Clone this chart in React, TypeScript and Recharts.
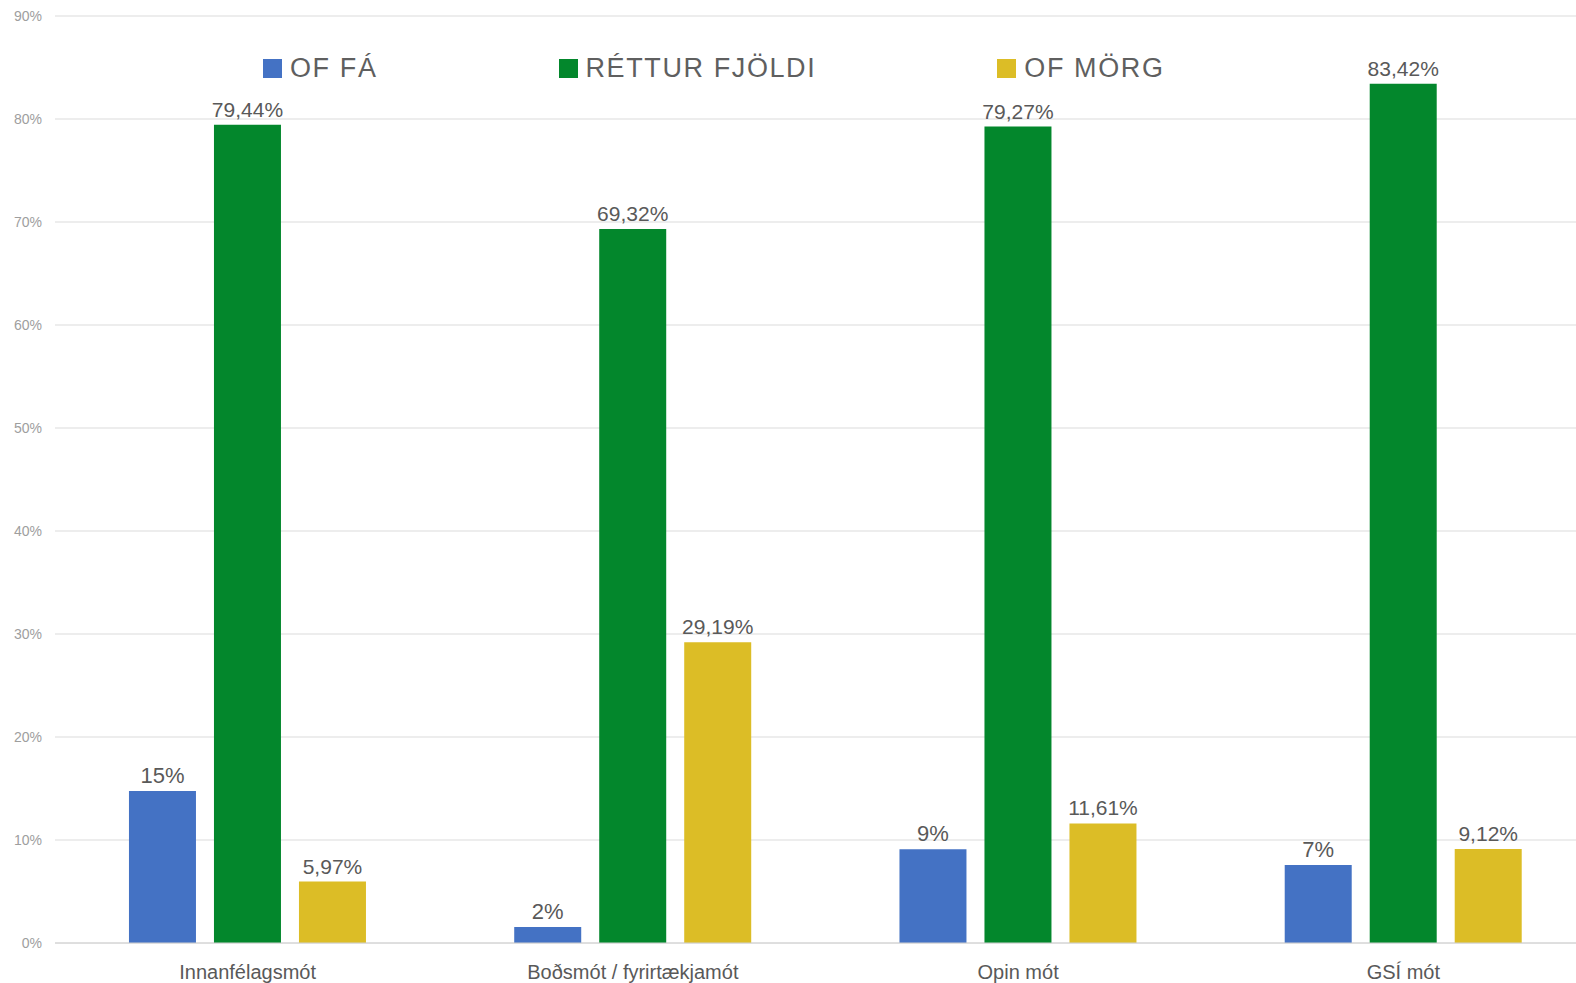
import React from 'react'
import { BarChart, Bar, XAxis, YAxis, CartesianGrid, LabelList } from 'recharts'

const categories = ['Innanfélagsmót', 'Boðsmót / fyrirtækjamót', 'Opin mót', 'GSÍ mót']
const ofFa = [14.76, 1.55, 9.1, 7.57]
const ofFaLabels = ['15%', '2%', '9%', '7%']
const retturFjoldi = [79.44, 69.32, 79.27, 83.42]
const retturLabels = ['79,44%', '69,32%', '79,27%', '83,42%']
const ofMorg = [5.97, 29.19, 11.61, 9.12]
const ofMorgLabels = ['5,97%', '29,19%', '11,61%', '9,12%']
const yTicks = [0, 10, 20, 30, 40, 50, 60, 70, 80, 90]

const series = [
  { key: 'ofFa', name: 'OF FÁ', color: '#4472c4' },
  { key: 'rettur', name: 'RÉTTUR FJÖLDI', color: '#03872c' },
  { key: 'ofMorg', name: 'OF MÖRG', color: '#dcbd26' },
]

const data = categories.map((name, i) => ({
  name,
  ofFa: ofFa[i],
  ofFaLabel: ofFaLabels[i],
  rettur: retturFjoldi[i],
  retturLabel: retturLabels[i],
  ofMorg: ofMorg[i],
  ofMorgLabel: ofMorgLabels[i],
}))

const FONT = '"Liberation Sans", Arial, sans-serif'
const labelStyle = { fontSize: 21, fill: '#595959', fontFamily: FONT }

// legend sits over the plot, so it's drawn outside recharts' layout
function ChartLegend() {
  return (
    <div
      style={{
        position: 'absolute', top: 52, left: 263, display: 'flex', gap: 181,
        fontFamily: FONT, fontSize: 27, letterSpacing: 1.6, color: '#5f5f5f', lineHeight: '32px',
      }}
    >
      {series.map(s => (
        <div key={s.key} style={{ display: 'flex', alignItems: 'center' }}>
          <span style={{ width: 19, height: 19, background: s.color, marginRight: 8, display: 'inline-block' }} />
          <span>{s.name}</span>
        </div>
      ))}
    </div>
  )
}

export default function App() {
  return (
    <div style={{ position: 'absolute', left: 0, top: 0, width: 1576, height: 983, background: '#fff', overflow: 'hidden' }}>
      <BarChart
        width={1576}
        height={983}
        data={data}
        margin={{ top: 16, right: -20, left: 0, bottom: 0 }}
        barCategoryGap="19.2%"
        barGap={18}
      >
        <CartesianGrid vertical={false} stroke="#dcdcdc" strokeWidth={1.2} />
        <XAxis
          dataKey="name"
          height={40}
          axisLine={{ stroke: '#d0d0d0' }}
          tickLine={false}
          tick={{ fontSize: 20, fill: '#595959', fontFamily: FONT }}
          tickMargin={16}
        />
        <YAxis
          width={55}
          domain={[0, 90]}
          ticks={yTicks}
          axisLine={false}
          tickLine={false}
          tickFormatter={(v: number) => `${v}%`}
          tick={{ fontSize: 14, fill: '#9e9e9e', fontFamily: FONT }}
          tickMargin={7}
        />
        <Bar dataKey="ofFa" name="OF FÁ" fill="#4472c4" isAnimationActive={false}>
          <LabelList dataKey="ofFaLabel" position="top" offset={8} style={{ ...labelStyle, fontSize: 22 }} />
        </Bar>
        <Bar dataKey="rettur" name="RÉTTUR FJÖLDI" fill="#03872c" isAnimationActive={false}>
          <LabelList dataKey="retturLabel" position="top" offset={8} style={labelStyle} />
        </Bar>
        <Bar dataKey="ofMorg" name="OF MÖRG" fill="#dcbd26" isAnimationActive={false}>
          <LabelList dataKey="ofMorgLabel" position="top" offset={8} style={labelStyle} />
        </Bar>
      </BarChart>
      <ChartLegend />
    </div>
  )
}
